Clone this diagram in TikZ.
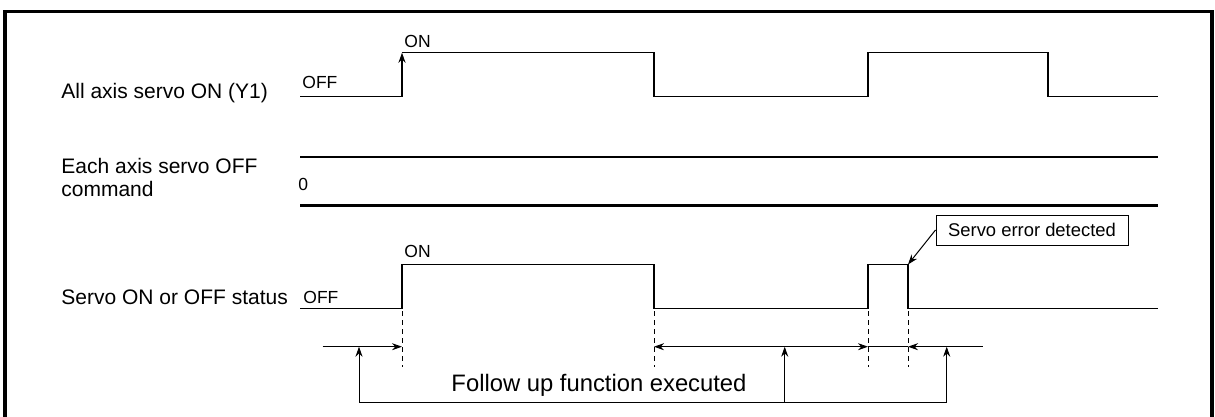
\documentclass[tikz,border=0pt]{standalone}
\usepackage{fontspec}
\setmainfont{Liberation Sans}
\usetikzlibrary{arrows.meta,positioning,calc}

\begin{document}
\begin{tikzpicture}[x=0.5pt, y=-0.5pt, >={Stealth[length=5pt,width=3.5pt]},
    wave/.style={line width=0.8pt, line join=miter},
    guide/.style={line width=0.5pt, dash pattern=on 2.5pt off 2pt},
    dim/.style={line width=0.5pt},
    lbl/.style={anchor=west, inner sep=0pt, align=left, font=\fontsize{10.5}{11.5}\selectfont},
    lvl/.style={anchor=west, inner sep=0pt, font=\fontsize{8.75}{10}\selectfont}]
    \useasboundingbox (0,0) rectangle (1215,417);

    % frame
    \draw[line width=1.6pt] (5,417) -- (5,11.7) -- (1212,11.7) -- (1212,417);

    % edge times and levels
    \coordinate (t0) at (300,0);
    \coordinate (t1) at (402,0);
    \coordinate (t2) at (654,0);
    \coordinate (t3) at (868,0);
    \coordinate (t4) at (908,0);
    \coordinate (t5) at (1048,0);
    \coordinate (tE) at (1158,0);
    \coordinate (hi1) at (0,52.7);
    \coordinate (lo1) at (0,96.7);
    \coordinate (up2) at (0,156.7);
    \coordinate (dn2) at (0,205.7);
    \coordinate (hi3) at (0,264.5);
    \coordinate (lo3) at (0,308.3);
    \coordinate (g1) at (0,311);
    \coordinate (g2) at (0,367);

    % labels
    \node[lbl] (lab1) at (61,93) {All axis servo ON (Y1)};
    \node[lbl] (lab2) at (61,177) {Each axis servo OFF\\command};
    \node[lbl] (lab3) at (61,297) {Servo ON or OFF status};
    \node[lvl] (off1) at (302,82) {OFF};
    \node[lvl] (on1) at (404,41) {ON};
    \node[lvl] (zero) at (298,184) {0};
    \node[lvl] (off3) at (303,297) {OFF};
    \node[lvl] (on3) at (404,251) {ON};

    % All axis servo ON
    \draw[wave] (t0 |- lo1) -- (t1 |- lo1);
    \draw[wave,->] (t1 |- lo1) -- (t1 |- hi1);
    \draw[wave] (t1 |- hi1) -| (t2 |- lo1) -| (t3 |- hi1) -| (t5 |- lo1) -- (tE |- lo1);

    % Each axis servo OFF command
    \draw[wave] (t0 |- up2) -- (tE |- up2);
    \draw[line width=1.3pt] (t0 |- dn2) -- (tE |- dn2);

    % Servo ON or OFF status
    \draw[wave] (t0 |- lo3) -| (t1 |- hi3) -| (t2 |- lo3) -| (t3 |- hi3) -| (t4 |- lo3) -- (tE |- lo3);
    \foreach \t in {t1,t2,t3,t4}
        \draw[guide] (\t |- g1) -- (\t |- g2);

    \node[draw, line width=0.5pt, minimum width=96pt, minimum height=15pt, inner sep=0pt,
        font=\fontsize{9.2}{10}\selectfont] (err) at (1032,230) {Servo error detected};
    \draw[dim,->] (err.west) -- (t4 |- hi3);

    % follow up
    \coordinate (a0) at (322.6,346.7);
    \coordinate (a9) at (982.7,346.7);
    \coordinate (f1) at (359,402.5);
    \coordinate (f2) at (784.7,402.5);
    \coordinate (f3) at (946.7,402.5);
    \draw[dim,->] (a0) -- (t1 |- a0);
    \draw[dim,<->] (t2 |- a0) -- (t3 |- a0);
    \draw[dim] (t3 |- a0) -- (t4 |- a0);
    \draw[dim,->] (a9) -- (t4 |- a0);
    \draw[dim] (f1) -- (f3);
    \foreach \f in {f1,f2,f3}
        \draw[dim,->] (\f) -- (\f |- a0);
    \node[inner sep=0pt, font=\fontsize{11.9}{13}\selectfont] (follow) at (599,385) {Follow up function executed};
\end{tikzpicture}
\end{document}
